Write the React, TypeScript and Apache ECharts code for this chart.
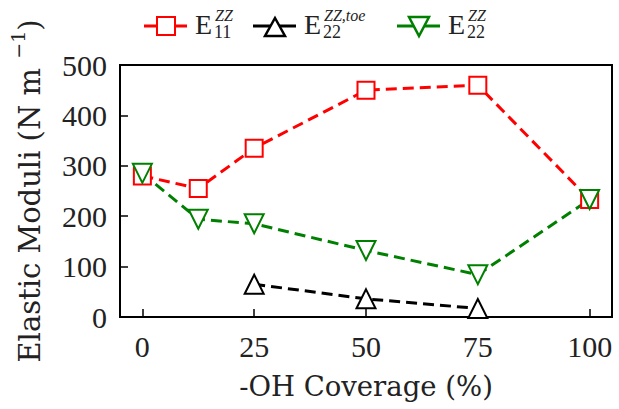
import React, { useEffect, useRef } from "react";
import * as echarts from "echarts";

// -OH coverage (%) for each sampled structure
const coverage = [0, 12.5, 25, 50, 75, 100];
// E11^ZZ modulus (N m^-1)
const e11 = [280, 255, 335, 450, 460, 233];
// E22^ZZ modulus (N m^-1)
const e22 = [285, 194, 185, 132, 84, 233];
// E22^ZZ,toe modulus, only defined for intermediate coverages
const toeCoverage = [25, 50, 75];
const e22Toe = [65, 36, 17];

const xTicks = [0, 25, 50, 75, 100];
const yTicks = [0, 100, 200, 300, 400, 500];

const RED = "#ff0000";
const BLACK = "#000000";
const GREEN = "#008000";
const SERIF = "Liberation Serif";
const WIDE_SERIF = "DejaVu Serif";

const pairs = (xs: number[], ys: number[]) => xs.map((x, i) => [x, ys[i]]);

type LegendEntry = {
  color: string;
  marker: "square" | "up" | "down";
  sub: string;
  sup: string;
  x: number;
};

const legendEntries: LegendEntry[] = [
  { color: RED, marker: "square", sub: "11", sup: "ZZ", x: 144 },
  { color: BLACK, marker: "up", sub: "22", sup: "ZZ,toe", x: 253 },
  { color: GREEN, marker: "down", sub: "22", sup: "ZZ", x: 397 },
];

function legendGraphic() {
  return legendEntries.map((e) => {
    const cy = 26;
    const mx = 22;
    let marker: any;
    if (e.marker === "square") {
      marker = {
        type: "rect",
        shape: { x: mx - 9, y: cy - 9, width: 18, height: 18 },
        style: { fill: "#fff", stroke: e.color, lineWidth: 2 },
      };
    } else if (e.marker === "up") {
      marker = {
        type: "polygon",
        shape: {
          points: [
            [mx, cy - 8],
            [mx + 10, cy + 10],
            [mx - 10, cy + 10],
          ],
        },
        style: { fill: "#fff", stroke: e.color, lineWidth: 2.5 },
      };
    } else {
      marker = {
        type: "polygon",
        shape: {
          points: [
            [mx - 10, cy - 9],
            [mx + 10, cy - 9],
            [mx, cy + 10],
          ],
        },
        style: { fill: "#fff", stroke: e.color, lineWidth: 2.5 },
      };
    }
    return {
      type: "group",
      x: e.x,
      y: 0,
      children: [
        {
          type: "line",
          shape: { x1: 0, y1: cy, x2: 43, y2: cy },
          style: { stroke: e.color, lineWidth: 3 },
        },
        marker,
        {
          type: "text",
          x: 51,
          y: 24,
          style: {
            text: "E",
            fontFamily: SERIF,
            fontSize: 28,
            fill: "#222",
            verticalAlign: "middle",
          },
        },
        {
          type: "text",
          x: 70,
          y: 32,
          style: {
            text: e.sub,
            fontFamily: SERIF,
            fontSize: 18,
            fill: "#222",
            verticalAlign: "middle",
          },
        },
        {
          type: "text",
          x: 71,
          y: 15,
          style: {
            text: e.sup,
            fontFamily: SERIF,
            fontStyle: "italic",
            fontSize: 16,
            fill: "#222",
            verticalAlign: "middle",
          },
        },
      ],
    };
  });
}

export default function App() {
  const ref = useRef<HTMLDivElement>(null);

  useEffect(() => {
    if (!ref.current) return;
    const chart = echarts.init(ref.current, undefined, { renderer: "svg" });

    const dashed = (color: string) => ({
      color,
      width: 3,
      type: [11, 6] as number[],
    });

    chart.setOption({
      animation: false,
      backgroundColor: "#fff",
      textStyle: { fontFamily: SERIF },
      grid: {
        left: 120,
        right: 7,
        top: 65,
        bottom: 92,
        show: true,
        borderColor: "#000",
        borderWidth: 2,
        backgroundColor: "transparent",
      },
      graphic: legendGraphic(),
      xAxis: {
        type: "value",
        min: -5,
        max: 105,
        name: "-OH Coverage (%)",
        nameLocation: "middle",
        nameGap: 55,
        nameTextStyle: { fontFamily: WIDE_SERIF, fontSize: 27.5, color: "#222" },
        axisLine: {
          show: true,
          onZero: false,
          lineStyle: { color: "#000", width: 2 },
        },
        axisTick: {
          show: true,
          inside: true,
          length: 8,
          customValues: xTicks,
          lineStyle: { color: "#000", width: 1.5 },
        },
        axisLabel: {
          customValues: xTicks,
          fontFamily: SERIF,
          fontSize: 30,
          color: "#222",
          margin: 14,
        },
        splitLine: { show: false },
      },
      yAxis: {
        type: "value",
        min: 0,
        max: 500,
        interval: 100,
        name: "{a|Elastic Moduli (N m }{s|−1}{a|)}",
        nameLocation: "middle",
        nameGap: 76,
        nameTextStyle: {
          fontFamily: WIDE_SERIF,
          rich: {
            a: {
              fontFamily: WIDE_SERIF,
              fontSize: 29,
              color: "#222",
              lineHeight: 36,
              verticalAlign: "bottom",
            },
            s: {
              fontFamily: WIDE_SERIF,
              fontSize: 19,
              color: "#222",
              lineHeight: 36,
              verticalAlign: "top",
            },
          },
        },
        axisLine: {
          show: true,
          onZero: false,
          lineStyle: { color: "#000", width: 2 },
        },
        axisTick: {
          show: true,
          inside: true,
          length: 8,
          lineStyle: { color: "#000", width: 1.5 },
        },
        axisLabel: {
          customValues: yTicks,
          fontFamily: SERIF,
          fontSize: 30,
          color: "#222",
          margin: 13,
        },
        splitLine: { show: false },
      },
      series: [
        {
          name: "E11",
          type: "line",
          data: pairs(coverage, e11),
          symbol: "emptyRect",
          symbolSize: 17,
          lineStyle: dashed(RED),
          itemStyle: { color: RED, borderWidth: 2 },
        },
        {
          name: "E22toe",
          type: "line",
          data: pairs(toeCoverage, e22Toe),
          symbol: "emptyTriangle",
          symbolSize: 19,
          lineStyle: dashed(BLACK),
          itemStyle: { color: BLACK, borderWidth: 2.5 },
        },
        {
          name: "E22",
          type: "line",
          data: pairs(coverage, e22),
          symbol: "emptyTriangle",
          symbolSize: 19,
          symbolRotate: 180,
          lineStyle: dashed(GREEN),
          itemStyle: { color: GREEN, borderWidth: 2.5 },
        },
      ],
    });

    return () => chart.dispose();
  }, []);

  return (
    <div
      ref={ref}
      style={{ position: "absolute", left: 0, top: 0, width: 619, height: 409 }}
    />
  );
}
